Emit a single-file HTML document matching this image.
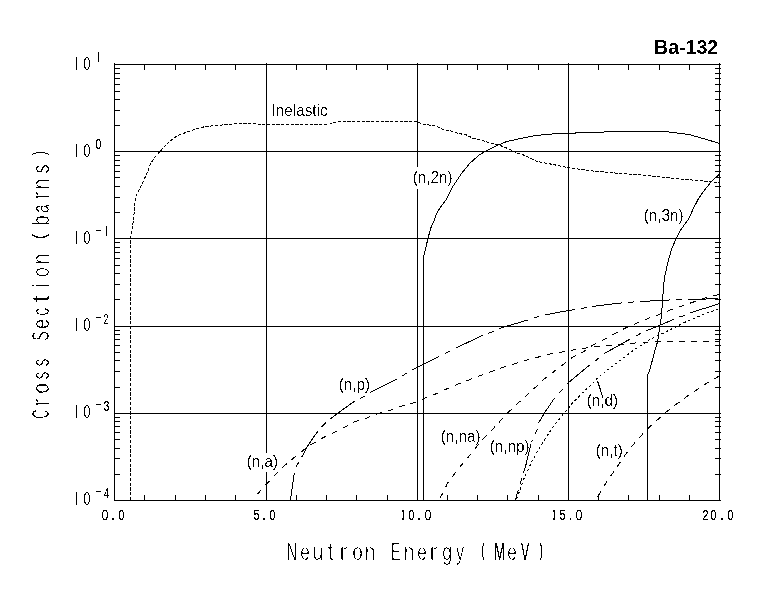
<!DOCTYPE html>
<html lang="en"><head><meta charset="utf-8"><title>Ba-132 neutron cross sections</title>
<style>html,body{margin:0;padding:0;background:#fff}body{width:780px;height:590px;overflow:hidden}svg{display:block}.ax{stroke:#000;stroke-width:1;fill:none;shape-rendering:crispEdges}.cv{stroke:#000;stroke-width:1;fill:none;shape-rendering:crispEdges;stroke-linejoin:round}.lb{font-family:"Liberation Sans",Arial,sans-serif;font-size:15.3px;fill:#000}.tt{font-family:"Liberation Sans",Arial,sans-serif;font-size:19.6px;font-weight:bold;fill:#000}.hx{font-family:"Liberation Sans",Arial,sans-serif;fill:#000}</style></head><body>
<svg width="780" height="590" viewBox="0 0 780 590">
<rect width="780" height="590" fill="#fff"/>
<defs><filter id="bw" x="0" y="0" width="780" height="590" filterUnits="userSpaceOnUse" color-interpolation-filters="sRGB"><feComponentTransfer><feFuncA type="discrete" tableValues="0 0 0 0 0 0 0 0 0 0 0 1 1 1 1 1 1 1 1 1"/></feComponentTransfer></filter><filter id="bwS" x="0" y="0" width="780" height="590" filterUnits="userSpaceOnUse" color-interpolation-filters="sRGB"><feComponentTransfer><feFuncA type="discrete" tableValues="0 0 0 0 0 0 0 0 0 1 1 1 1 1 1 1 1 1 1 1"/></feComponentTransfer></filter><filter id="bwL" x="0" y="0" width="780" height="590" filterUnits="userSpaceOnUse" color-interpolation-filters="sRGB"><feColorMatrix type="matrix" values="0 0 0 0 0  0 0 0 0 0  0 0 0 0 0  -0.3333 -0.3333 -0.3334 1 0"/><feComponentTransfer><feFuncA type="discrete" tableValues="0 0 0 0 0 0 0 0 0 1 1 1 1 1 1 1 1 1 1 1"/></feComponentTransfer></filter><filter id="bwY" x="0" y="0" width="780" height="590" filterUnits="userSpaceOnUse" color-interpolation-filters="sRGB"><feColorMatrix type="matrix" values="0 0 0 0 0  0 0 0 0 0  0 0 0 0 0  -0.3333 -0.3333 -0.3334 1 0"/><feComponentTransfer><feFuncA type="discrete" tableValues="0 0 0 0 0 0 0 0 0 0 1 1 1 1 1 1 1 1 1 1"/></feComponentTransfer></filter></defs>
<g fill="#000" shape-rendering="crispEdges">
<rect x="114" y="64" width="607" height="1"/>
<rect x="114" y="500" width="607" height="1"/>
<rect x="114" y="63" width="1" height="438"/>
<rect x="719" y="63" width="1" height="438"/>
<rect x="266" y="63" width="1" height="438"/>
<rect x="417" y="63" width="1" height="438"/>
<rect x="568" y="63" width="1" height="438"/>
<rect x="114" y="151" width="607" height="1"/>
<rect x="114" y="238" width="607" height="1"/>
<rect x="114" y="326" width="607" height="1"/>
<rect x="114" y="413" width="607" height="1"/>
<rect x="144" y="64" width="1" height="6"/>
<rect x="144" y="495" width="1" height="6"/>
<rect x="175" y="64" width="1" height="6"/>
<rect x="175" y="495" width="1" height="6"/>
<rect x="205" y="64" width="1" height="6"/>
<rect x="205" y="495" width="1" height="6"/>
<rect x="235" y="64" width="1" height="6"/>
<rect x="235" y="495" width="1" height="6"/>
<rect x="296" y="64" width="1" height="6"/>
<rect x="296" y="495" width="1" height="6"/>
<rect x="326" y="64" width="1" height="6"/>
<rect x="326" y="495" width="1" height="6"/>
<rect x="356" y="64" width="1" height="6"/>
<rect x="356" y="495" width="1" height="6"/>
<rect x="387" y="64" width="1" height="6"/>
<rect x="387" y="495" width="1" height="6"/>
<rect x="447" y="64" width="1" height="6"/>
<rect x="447" y="495" width="1" height="6"/>
<rect x="477" y="64" width="1" height="6"/>
<rect x="477" y="495" width="1" height="6"/>
<rect x="507" y="64" width="1" height="6"/>
<rect x="507" y="495" width="1" height="6"/>
<rect x="538" y="64" width="1" height="6"/>
<rect x="538" y="495" width="1" height="6"/>
<rect x="598" y="64" width="1" height="6"/>
<rect x="598" y="495" width="1" height="6"/>
<rect x="628" y="64" width="1" height="6"/>
<rect x="628" y="495" width="1" height="6"/>
<rect x="659" y="64" width="1" height="6"/>
<rect x="659" y="495" width="1" height="6"/>
<rect x="689" y="64" width="1" height="6"/>
<rect x="689" y="495" width="1" height="6"/>
<rect x="114" y="125" width="6" height="1"/>
<rect x="715" y="125" width="6" height="1"/>
<rect x="114" y="110" width="6" height="1"/>
<rect x="715" y="110" width="6" height="1"/>
<rect x="114" y="99" width="6" height="1"/>
<rect x="715" y="99" width="6" height="1"/>
<rect x="114" y="91" width="6" height="1"/>
<rect x="715" y="91" width="6" height="1"/>
<rect x="114" y="84" width="6" height="1"/>
<rect x="715" y="84" width="6" height="1"/>
<rect x="114" y="78" width="6" height="1"/>
<rect x="715" y="78" width="6" height="1"/>
<rect x="114" y="73" width="6" height="1"/>
<rect x="715" y="73" width="6" height="1"/>
<rect x="114" y="68" width="6" height="1"/>
<rect x="715" y="68" width="6" height="1"/>
<rect x="114" y="212" width="6" height="1"/>
<rect x="715" y="212" width="6" height="1"/>
<rect x="114" y="197" width="6" height="1"/>
<rect x="715" y="197" width="6" height="1"/>
<rect x="114" y="186" width="6" height="1"/>
<rect x="715" y="186" width="6" height="1"/>
<rect x="114" y="177" width="6" height="1"/>
<rect x="715" y="177" width="6" height="1"/>
<rect x="114" y="171" width="6" height="1"/>
<rect x="715" y="171" width="6" height="1"/>
<rect x="114" y="165" width="6" height="1"/>
<rect x="715" y="165" width="6" height="1"/>
<rect x="114" y="160" width="6" height="1"/>
<rect x="715" y="160" width="6" height="1"/>
<rect x="114" y="155" width="6" height="1"/>
<rect x="715" y="155" width="6" height="1"/>
<rect x="114" y="299" width="6" height="1"/>
<rect x="715" y="299" width="6" height="1"/>
<rect x="114" y="284" width="6" height="1"/>
<rect x="715" y="284" width="6" height="1"/>
<rect x="114" y="273" width="6" height="1"/>
<rect x="715" y="273" width="6" height="1"/>
<rect x="114" y="265" width="6" height="1"/>
<rect x="715" y="265" width="6" height="1"/>
<rect x="114" y="258" width="6" height="1"/>
<rect x="715" y="258" width="6" height="1"/>
<rect x="114" y="252" width="6" height="1"/>
<rect x="715" y="252" width="6" height="1"/>
<rect x="114" y="247" width="6" height="1"/>
<rect x="715" y="247" width="6" height="1"/>
<rect x="114" y="242" width="6" height="1"/>
<rect x="715" y="242" width="6" height="1"/>
<rect x="114" y="387" width="6" height="1"/>
<rect x="715" y="387" width="6" height="1"/>
<rect x="114" y="371" width="6" height="1"/>
<rect x="715" y="371" width="6" height="1"/>
<rect x="114" y="360" width="6" height="1"/>
<rect x="715" y="360" width="6" height="1"/>
<rect x="114" y="352" width="6" height="1"/>
<rect x="715" y="352" width="6" height="1"/>
<rect x="114" y="345" width="6" height="1"/>
<rect x="715" y="345" width="6" height="1"/>
<rect x="114" y="339" width="6" height="1"/>
<rect x="715" y="339" width="6" height="1"/>
<rect x="114" y="334" width="6" height="1"/>
<rect x="715" y="334" width="6" height="1"/>
<rect x="114" y="330" width="6" height="1"/>
<rect x="715" y="330" width="6" height="1"/>
<rect x="114" y="474" width="6" height="1"/>
<rect x="715" y="474" width="6" height="1"/>
<rect x="114" y="458" width="6" height="1"/>
<rect x="715" y="458" width="6" height="1"/>
<rect x="114" y="448" width="6" height="1"/>
<rect x="715" y="448" width="6" height="1"/>
<rect x="114" y="439" width="6" height="1"/>
<rect x="715" y="439" width="6" height="1"/>
<rect x="114" y="432" width="6" height="1"/>
<rect x="715" y="432" width="6" height="1"/>
<rect x="114" y="426" width="6" height="1"/>
<rect x="715" y="426" width="6" height="1"/>
<rect x="114" y="421" width="6" height="1"/>
<rect x="715" y="421" width="6" height="1"/>
<rect x="114" y="417" width="6" height="1"/>
<rect x="715" y="417" width="6" height="1"/>
</g>
<rect x="271.9" y="100.0" width="56.3" height="21.8" fill="#fff" shape-rendering="crispEdges"/>
<rect x="412.6" y="167.0" width="39.9" height="21.8" fill="#fff" shape-rendering="crispEdges"/>
<rect x="643.6" y="205.0" width="39.5" height="21.8" fill="#fff" shape-rendering="crispEdges"/>
<rect x="338.6" y="374.0" width="31.8" height="21.8" fill="#fff" shape-rendering="crispEdges"/>
<rect x="246.7" y="452.7" width="31.6" height="19.3" fill="#fff" shape-rendering="crispEdges"/>
<rect x="440.6" y="426.0" width="39.5" height="21.8" fill="#fff" shape-rendering="crispEdges"/>
<rect x="489.6" y="436.0" width="39.5" height="21.8" fill="#fff" shape-rendering="crispEdges"/>
<rect x="586.6" y="390.0" width="31.4" height="21.8" fill="#fff" shape-rendering="crispEdges"/>
<rect x="595.6" y="440.0" width="26.6" height="21.8" fill="#fff" shape-rendering="crispEdges"/>
<g filter="url(#bw)">
<text class="lb" transform="translate(271.50,115.9) scale(1,1.11)" x="0" y="0">Inelastic</text>
<text class="lb" transform="translate(412.65,182.9) scale(1,1.11)" x="0" y="0">(n,2n)</text>
<text class="lb" transform="translate(643.70,220.9) scale(1,1.11)" x="0" y="0">(n,3n)</text>
<text class="lb" transform="translate(338.65,389.9) scale(1,1.11)" x="0" y="0">(n,p)</text>
<text class="lb" transform="translate(246.75,466.9) scale(1,1.11)" x="0" y="0">(n,a)</text>
<text class="lb" transform="translate(440.70,441.9) scale(1,1.11)" x="0" y="0">(n,na)</text>
<text class="lb" transform="translate(489.70,451.9) scale(1,1.11)" x="0" y="0">(n,np)</text>
<text class="lb" transform="translate(586.70,405.9) scale(1,1.11)" x="0" y="0">(n,d)</text>
<text class="lb" transform="translate(595.70,455.9) scale(1,1.11)" x="0" y="0">(n,t)</text>
<text class="tt" x="654" y="54">Ba-132</text>
</g>
<g class="cv">
<polyline points="130.5,500.0 130.5,240.0 131.5,232.0 132.5,226.0 133.5,220.0 135.5,197.4 139.6,189.2 144.8,178.0 148.5,169.7 150.5,163.6 154.0,158.5 160.2,151.3 167.7,143.0 177.6,135.5 187.8,131.8 201.2,127.3 214.5,125.6 226.8,124.6 237.0,123.6 253.5,123.6 261.7,124.4 274.0,124.4 330.0,124.0 336.0,122.0 417.0,121.3 422.3,124.0 436.7,126.3 442.8,129.3 453.0,131.4 458.2,133.4 466.4,134.9 473.6,138.6 482.8,140.4 489.0,143.0 498.2,144.7 509.5,149.2 517.7,153.3 524.9,155.4 537.2,161.5 553.6,164.6 568.2,167.7 590.8,170.8 617.4,173.2 646.2,175.3 674.9,178.6 703.6,181.0 720.0,182.7" stroke-dasharray="3.25 1.5"/>
<polyline points="423.5,500.0 423.5,257.4 425.4,249.2 428.0,238.4 430.5,228.7 434.3,220.0 436.7,213.3 440.8,206.7 445.9,200.0 448.0,196.4 453.0,186.2 461.3,173.8 469.5,163.6 478.7,155.4 487.0,150.3 497.2,145.5 506.4,141.6 520.8,138.4 537.2,135.3 553.6,133.9 560.0,133.5 574.5,133.5 576.5,132.5 603.0,132.5 605.0,131.5 664.6,131.5 674.9,132.8 689.2,134.5 720.0,143.5"/>
<polyline points="647.6,500.0 647.6,374.6 649.8,370.0 655.0,350.0 657.6,341.5 659.8,326.2 661.3,317.8 662.6,300.0 663.7,285.0 664.6,277.0 667.7,263.0 671.5,249.2 676.2,238.5 680.0,230.8 688.5,219.2 692.3,210.8 695.4,204.6 697.7,200.0 703.6,191.3 711.8,181.0 720.0,173.8"/>
<polyline points="290.5,500.0 293.8,476.0 296.0,467.0 302.3,456.0 307.7,446.0 315.4,434.6 322.3,426.0 330.8,418.5 337.0,413.8 341.5,410.5 353.0,402.3 364.0,396.6 370.3,392.3 396.0,379.7 407.0,373.0 412.3,370.0 437.0,357.7 450.0,351.0 455.0,348.5 481.8,335.7 493.8,331.2 499.2,328.5 527.7,320.0 540.0,316.2 545.4,315.0 560.0,312.0 575.6,309.5 587.8,307.3 592.3,306.4 622.4,302.8 635.3,301.8 640.4,301.5 670.8,299.9 689.0,299.6 720.0,298.5" stroke-dasharray="30 6 6 6" stroke-dashoffset="2.9"/>
<polyline points="253.8,499.2 258.5,493.0 266.0,484.6 274.6,475.4 283.8,466.2 293.0,458.5 304.6,449.2 312.3,443.8 323.0,437.7 333.8,432.8 346.0,426.6 353.0,422.3 365.4,418.5 377.7,413.8 388.5,410.8 402.3,406.0 415.4,402.3 423.8,398.5 436.0,393.8 446.0,389.2 458.5,383.8 470.8,379.2 480.0,375.7 491.5,371.5 503.0,367.4 514.6,363.8 526.0,360.3 538.5,357.0 550.0,354.0 562.0,352.0 574.0,349.8 585.6,348.0 598.0,346.2 609.0,345.4 621.0,344.5 633.5,343.1 646.0,342.1 680.0,341.5 720.0,341.5" stroke-dasharray="6 6.08" stroke-dashoffset="5.78"/>
<polyline points="439.4,499.0 443.0,493.0 447.3,483.6 454.4,474.0 462.0,464.4 469.7,455.4 475.8,447.7 484.2,437.7 492.0,430.0 500.4,420.8 508.0,412.6 517.3,403.8 526.5,395.4 535.8,387.0 543.8,379.2 553.0,372.3 563.0,364.6 573.0,357.0 583.7,351.5 593.2,344.8 604.2,339.4 614.7,333.6 625.3,328.1 636.5,323.3 647.9,318.5 658.7,314.7 671.0,309.7 682.3,305.8 694.1,301.8 704.1,298.3 720.0,294.2" stroke-dasharray="6 6" stroke-dashoffset="10.4"/>
<polyline points="515.4,500.0 520.0,483.8 525.4,467.0 531.5,442.3" stroke-dasharray="30 6 6 6" stroke-dashoffset="19.5"/>
<polyline points="531.5,442.3 534.6,434.6 537.0,430.0 538.5,423.0 545.4,411.5 553.8,399.2 558.5,393.8 561.5,390.8 567.0,383.8 589.2,365.4 594.6,361.5 599.2,357.7 603.5,354.0 629.5,339.4 635.3,336.2 640.4,333.6 646.0,331.0 673.8,319.4 680.0,316.8 685.6,315.3 691.3,312.5 720.0,303.5" stroke-dasharray="30 6 6 6" stroke-dashoffset="27.1"/>
<polyline points="516.7,499.0 523.7,479.2 531.5,462.3 539.1,448.5 546.3,437.0 553.8,426.0 563.0,414.6 567.7,409.2 573.0,402.3 582.3,393.0 591.5,384.6 597.0,378.5 603.8,373.0 614.6,364.6 623.8,357.7 632.3,351.2 640.4,345.8 650.0,339.4 660.0,334.7 672.0,328.8 687.0,321.2 700.0,315.8 720.0,308.2" stroke-dasharray="2.3 2.7"/>
<polyline points="597.5,497.0 600.0,492.8 605.0,484.5 612.0,474.2 619.0,464.0 625.5,454.4 633.2,444.7 641.0,435.8 648.5,428.0 657.8,419.5 666.3,411.9 676.4,404.2 686.6,396.6 696.8,389.8 707.0,383.0 720.0,375.5" stroke-dasharray="6 6" stroke-dashoffset="11.7"/>
</g>
<line class="cv" x1="597.4" y1="380.6" x2="602.9" y2="397.4"/>
<defs><clipPath id="c0"><rect x="401.9" y="505.0" width="2.2" height="20.0"/><rect x="406.0" y="505.0" width="37.5" height="20.0"/></clipPath><clipPath id="c1"><rect x="552.9" y="505.0" width="2.2" height="20.0"/><rect x="557.0" y="505.0" width="37.5" height="20.0"/></clipPath><clipPath id="c2"><rect x="75.9" y="55.0" width="1.2" height="18.0"/><rect x="82.0" y="55.0" width="10.0" height="18.0"/></clipPath><clipPath id="c3"><rect x="97.9" y="48.0" width="1.2" height="16.0"/></clipPath><clipPath id="c4"><rect x="75.9" y="142.0" width="1.2" height="18.0"/><rect x="82.0" y="142.0" width="10.0" height="18.0"/></clipPath><clipPath id="c5"><rect x="75.9" y="229.0" width="1.2" height="18.0"/><rect x="82.0" y="229.0" width="10.0" height="18.0"/></clipPath><clipPath id="c6"><rect x="105.9" y="222.0" width="1.2" height="16.0"/></clipPath><clipPath id="c7"><rect x="75.9" y="316.0" width="1.2" height="18.0"/><rect x="82.0" y="316.0" width="10.0" height="18.0"/></clipPath><clipPath id="c8"><rect x="75.9" y="403.0" width="1.2" height="18.0"/><rect x="82.0" y="403.0" width="10.0" height="18.0"/></clipPath><clipPath id="c9"><rect x="75.9" y="490.0" width="1.2" height="18.0"/><rect x="82.0" y="490.0" width="10.0" height="18.0"/></clipPath></defs>
<g filter="url(#bwS)"><text class="hx" transform="translate(0,519.9)" style="font-size:14.1px"><tspan x="101.51" y="0.00" textLength="6.98" lengthAdjust="spacingAndGlyphs">0</tspan><tspan x="111.04" y="0.00" font-weight="bold" textLength="3.94" lengthAdjust="spacingAndGlyphs">.</tspan><tspan x="118.59" y="0.00" textLength="5.82" lengthAdjust="spacingAndGlyphs">0</tspan></text>
<text class="hx" transform="translate(0,519.9)" style="font-size:14.1px"><tspan x="253.58" y="0.00" textLength="5.87" lengthAdjust="spacingAndGlyphs">5</tspan><tspan x="262.04" y="0.00" font-weight="bold" textLength="3.94" lengthAdjust="spacingAndGlyphs">.</tspan><tspan x="269.59" y="0.00" textLength="5.82" lengthAdjust="spacingAndGlyphs">0</tspan></text>
<g clip-path="url(#c0)"><text class="hx" transform="translate(0,519.9)" style="font-size:14.1px"><tspan x="401.08" y="0.00" font-weight="bold" textLength="4.46" lengthAdjust="spacingAndGlyphs">1</tspan><tspan x="408.59" y="0.00" textLength="5.82" lengthAdjust="spacingAndGlyphs">0</tspan><tspan x="417.04" y="0.00" font-weight="bold" textLength="3.94" lengthAdjust="spacingAndGlyphs">.</tspan><tspan x="424.51" y="0.00" textLength="6.98" lengthAdjust="spacingAndGlyphs">0</tspan></text></g>
<g clip-path="url(#c1)"><text class="hx" transform="translate(0,519.9)" style="font-size:14.1px"><tspan x="552.08" y="0.00" font-weight="bold" textLength="4.46" lengthAdjust="spacingAndGlyphs">1</tspan><tspan x="559.58" y="0.00" textLength="5.87" lengthAdjust="spacingAndGlyphs">5</tspan><tspan x="569.37" y="0.00" font-weight="bold" textLength="2.56" lengthAdjust="spacingAndGlyphs">.</tspan><tspan x="575.51" y="0.00" textLength="6.98" lengthAdjust="spacingAndGlyphs">0</tspan></text></g>
<text class="hx" transform="translate(0,519.9)" style="font-size:14.1px"><tspan x="702.45" y="0.00" textLength="6.10" lengthAdjust="spacingAndGlyphs">2</tspan><tspan x="710.59" y="0.00" textLength="5.82" lengthAdjust="spacingAndGlyphs">0</tspan><tspan x="720.04" y="0.00" font-weight="bold" textLength="3.94" lengthAdjust="spacingAndGlyphs">.</tspan><tspan x="727.59" y="0.00" textLength="5.82" lengthAdjust="spacingAndGlyphs">0</tspan></text>
<g clip-path="url(#c2)"><text class="hx" transform="translate(0,69.85)" style="font-size:18.4px"><tspan x="74.08" y="0.00" font-weight="bold" textLength="4.46" lengthAdjust="spacingAndGlyphs">1</tspan><tspan x="83.51" y="0.00" textLength="6.98" lengthAdjust="spacingAndGlyphs">0</tspan></text></g>
<g clip-path="url(#c3)"><text class="hx" transform="translate(0,61.85)" style="font-size:14.1px"><tspan x="96.08" y="0.00" font-weight="bold" textLength="4.46" lengthAdjust="spacingAndGlyphs">1</tspan></text></g>
<g clip-path="url(#c4)"><text class="hx" transform="translate(0,156.85)" style="font-size:18.4px"><tspan x="74.08" y="0.00" font-weight="bold" textLength="4.46" lengthAdjust="spacingAndGlyphs">1</tspan><tspan x="83.51" y="0.00" textLength="6.98" lengthAdjust="spacingAndGlyphs">0</tspan></text></g>
<text class="hx" transform="translate(0,149.35)" style="font-size:14.1px"><tspan x="95.59" y="0.00" textLength="5.82" lengthAdjust="spacingAndGlyphs">0</tspan></text>
<g clip-path="url(#c5)"><text class="hx" transform="translate(0,243.85)" style="font-size:18.4px"><tspan x="74.08" y="0.00" font-weight="bold" textLength="4.46" lengthAdjust="spacingAndGlyphs">1</tspan><tspan x="83.51" y="0.00" textLength="6.98" lengthAdjust="spacingAndGlyphs">0</tspan></text></g>
<text class="hx" transform="translate(0,235.3)" style="font-size:14.1px"><tspan x="95.09" y="0.00" textLength="6.82" lengthAdjust="spacingAndGlyphs">-</tspan></text>
<g clip-path="url(#c6)"><text class="hx" transform="translate(0,235.85)" style="font-size:14.1px"><tspan x="104.08" y="0.00" font-weight="bold" textLength="4.46" lengthAdjust="spacingAndGlyphs">1</tspan></text></g>
<g clip-path="url(#c7)"><text class="hx" transform="translate(0,330.85)" style="font-size:18.4px"><tspan x="74.08" y="0.00" font-weight="bold" textLength="4.46" lengthAdjust="spacingAndGlyphs">1</tspan><tspan x="83.51" y="0.00" textLength="6.98" lengthAdjust="spacingAndGlyphs">0</tspan></text></g>
<text class="hx" transform="translate(0,322.3)" style="font-size:14.1px"><tspan x="95.09" y="0.00" textLength="6.82" lengthAdjust="spacingAndGlyphs">-</tspan></text>
<text class="hx" transform="translate(0,323.85)" style="font-size:14.1px"><tspan x="103.56" y="0.00" textLength="4.88" lengthAdjust="spacingAndGlyphs">2</tspan></text>
<g clip-path="url(#c8)"><text class="hx" transform="translate(0,417.85)" style="font-size:18.4px"><tspan x="74.08" y="0.00" font-weight="bold" textLength="4.46" lengthAdjust="spacingAndGlyphs">1</tspan><tspan x="83.51" y="0.00" textLength="6.98" lengthAdjust="spacingAndGlyphs">0</tspan></text></g>
<text class="hx" transform="translate(0,409.3)" style="font-size:14.1px"><tspan x="95.09" y="0.00" textLength="6.82" lengthAdjust="spacingAndGlyphs">-</tspan></text>
<text class="hx" transform="translate(0,410.85)" style="font-size:14.1px"><tspan x="103.60" y="0.00" textLength="5.87" lengthAdjust="spacingAndGlyphs">3</tspan></text>
<g clip-path="url(#c9)"><text class="hx" transform="translate(0,504.85)" style="font-size:18.4px"><tspan x="74.08" y="0.00" font-weight="bold" textLength="4.46" lengthAdjust="spacingAndGlyphs">1</tspan><tspan x="83.51" y="0.00" textLength="6.98" lengthAdjust="spacingAndGlyphs">0</tspan></text></g>
<text class="hx" transform="translate(0,496.3)" style="font-size:14.1px"><tspan x="95.09" y="0.00" textLength="6.82" lengthAdjust="spacingAndGlyphs">-</tspan></text>
<text class="hx" transform="translate(0,497.85)" style="font-size:14.1px"><tspan x="103.77" y="0.00" textLength="5.52" lengthAdjust="spacingAndGlyphs">4</tspan></text></g>
<g filter="url(#bwL)"><text class="hx" transform="translate(0,560)" style="font-size:23.2px;stroke:#fff;stroke-width:0.3px"><tspan x="286.83" y="0.00" textLength="10.34" lengthAdjust="spacingAndGlyphs">N</tspan><tspan x="300.28" y="0.00" textLength="9.48" lengthAdjust="spacingAndGlyphs">e</tspan><tspan x="312.78" y="0.00" textLength="10.47" lengthAdjust="spacingAndGlyphs">u</tspan><tspan x="327.70" y="0.00" textLength="5.44" lengthAdjust="spacingAndGlyphs">t</tspan><tspan x="339.41" y="0.00" textLength="7.99" lengthAdjust="spacingAndGlyphs">r</tspan><tspan x="352.20" y="0.00" textLength="10.60" lengthAdjust="spacingAndGlyphs">o</tspan><tspan x="364.75" y="0.00" textLength="10.47" lengthAdjust="spacingAndGlyphs">n</tspan><tspan x="378.0" y="0"> </tspan><tspan x="390.79" y="0.00" textLength="9.85" lengthAdjust="spacingAndGlyphs">E</tspan><tspan x="403.75" y="0.00" textLength="10.47" lengthAdjust="spacingAndGlyphs">n</tspan><tspan x="417.28" y="0.00" textLength="9.48" lengthAdjust="spacingAndGlyphs">e</tspan><tspan x="429.41" y="0.00" textLength="7.99" lengthAdjust="spacingAndGlyphs">r</tspan><tspan x="442.25" y="0.00" textLength="9.89" lengthAdjust="spacingAndGlyphs">g</tspan><tspan x="455.96" y="0.00" textLength="8.07" lengthAdjust="spacingAndGlyphs">y</tspan><tspan x="468.0" y="0"> </tspan><tspan x="481.65" y="-3.53" font-weight="bold" font-size="17.63px" stroke-width="0" stroke="none" textLength="2.36" lengthAdjust="spacingAndGlyphs">(</tspan><tspan x="493.90" y="0.00" stroke="none" textLength="11.21" lengthAdjust="spacingAndGlyphs">M</tspan><tspan x="507.28" y="0.00" textLength="9.48" lengthAdjust="spacingAndGlyphs">e</tspan><tspan x="520.95" y="0.00" stroke="none" textLength="8.11" lengthAdjust="spacingAndGlyphs">V</tspan><tspan x="539.99" y="-3.53" font-weight="bold" font-size="17.63px" stroke-width="0" stroke="none" textLength="2.36" lengthAdjust="spacingAndGlyphs">)</tspan></text></g>
<g filter="url(#bwY)"><text class="hx" transform="translate(49,418) rotate(-90)" style="font-size:23.2px;stroke:#fff;stroke-width:0.2px"><tspan x="-0.64" y="0.00" textLength="9.12" lengthAdjust="spacingAndGlyphs">C</tspan><tspan x="11.41" y="0.00" textLength="7.99" lengthAdjust="spacingAndGlyphs">r</tspan><tspan x="24.20" y="0.00" textLength="10.60" lengthAdjust="spacingAndGlyphs">o</tspan><tspan x="38.55" y="0.00" textLength="8.03" lengthAdjust="spacingAndGlyphs">s</tspan><tspan x="51.55" y="0.00" textLength="8.03" lengthAdjust="spacingAndGlyphs">s</tspan><tspan x="63.0" y="0"> </tspan><tspan x="77.37" y="0.00" textLength="9.27" lengthAdjust="spacingAndGlyphs">S</tspan><tspan x="89.28" y="0.00" textLength="9.48" lengthAdjust="spacingAndGlyphs">e</tspan><tspan x="102.31" y="0.00" textLength="8.12" lengthAdjust="spacingAndGlyphs">c</tspan><tspan x="115.59" y="0.00" textLength="7.62" lengthAdjust="spacingAndGlyphs">t</tspan><tspan x="131.24" y="0.00" textLength="2.53" lengthAdjust="spacingAndGlyphs">i</tspan><tspan x="141.29" y="0.00" textLength="9.42" lengthAdjust="spacingAndGlyphs">o</tspan><tspan x="153.75" y="0.00" textLength="10.47" lengthAdjust="spacingAndGlyphs">n</tspan><tspan x="167.0" y="0"> </tspan><tspan x="179.06" y="-3.53" font-size="17.63px" stroke-width="0" stroke="none" textLength="5.02" lengthAdjust="spacingAndGlyphs">(</tspan><tspan x="192.85" y="0.00" textLength="9.89" lengthAdjust="spacingAndGlyphs">b</tspan><tspan x="205.34" y="0.00" textLength="8.66" lengthAdjust="spacingAndGlyphs">a</tspan><tspan x="218.41" y="0.00" textLength="7.99" lengthAdjust="spacingAndGlyphs">r</tspan><tspan x="228.75" y="0.00" textLength="10.47" lengthAdjust="spacingAndGlyphs">n</tspan><tspan x="244.49" y="0.00" textLength="9.17" lengthAdjust="spacingAndGlyphs">s</tspan><tspan x="262.93" y="-3.53" font-size="17.63px" stroke-width="0" stroke="none" textLength="3.77" lengthAdjust="spacingAndGlyphs">)</tspan></text></g>
</svg></body></html>
